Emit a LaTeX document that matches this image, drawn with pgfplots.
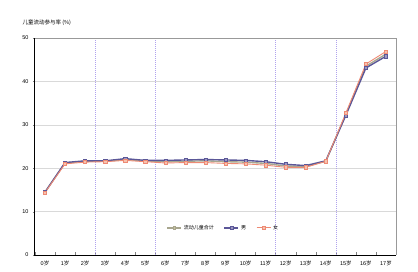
\documentclass[border=0pt]{standalone}
\usepackage{fontspec}
\setmainfont{Liberation Sans}
\newfontfamily\cjk{Noto Sans CJK SC}
\usepackage{pgfplots}
\pgfplotsset{compat=1.18}
\definecolor{totc}{HTML}{A8A68E}
\definecolor{totf}{HTML}{C8C4A0}
\definecolor{malec}{HTML}{5B5798}
\definecolor{femc}{HTML}{EE8A74}
\definecolor{femf}{HTML}{F6C2AE}
\definecolor{vline}{HTML}{9C8CE8}
\newcommand{\sui}[1]{#1{\cjk 岁}}
\begin{document}
\begin{tikzpicture}[x=1pt,y=1pt]
\path[use as bounding box] (0,0) rectangle (418,271);
\node[anchor=west,font=\fontsize{5.5}{6}\selectfont\cjk] at (19,248) {儿童流动参与率 (\%)};
\begin{axis}[
  at={(35pt,16pt)}, anchor=south west,
  scale only axis, width=361pt, height=217pt,
  xmin=-0.5, xmax=17.5, ymin=0, ymax=50,
  xtick={0,...,17},
  xticklabels={\sui{0},\sui{1},\sui{2},\sui{3},\sui{4},\sui{5},\sui{6},\sui{7},\sui{8},\sui{9},\sui{10},\sui{11},\sui{12},\sui{13},\sui{14},\sui{15},\sui{16},\sui{17}},
  minor xtick={-0.5,0.5,...,17.5},
  major x tick style={draw=none},
  minor x tick style={gray, line width=0.4pt},
  minor tick length=3pt,
  xtick pos=bottom,
  ytick={0,10,...,50},
  ytick pos=left,
  ytick align=outside,
  major tick length=2pt,
  ymajorgrids, grid style={gray!30, line width=0.6pt},
  axis line style={draw=none},
  tick label style={font=\fontsize{5.5}{6}\selectfont},
  /pgf/number format/assume math mode=true,
  xticklabel style={yshift=-2pt},
  yticklabel style={xshift=-1pt},
  legend style={at={(0.355,0.125)}, anchor=west, draw=none, fill=none,
    font=\fontsize{5}{6}\selectfont\cjk, legend columns=3,
    /tikz/every even column/.append style={column sep=8pt}},
  legend image code/.code={
    \draw[#1, mark=none] (0pt,0pt) -- (14pt,0pt);
    \draw[#1, only marks, mark size=1.3pt] plot coordinates {(7pt,0pt)};
  },
  clip=false,
]
% vertical dotted lines
\pgfplotsinvokeforeach{2.5,5.5,11.5,14.5}{
  \addplot[forget plot, vline!80, dash pattern=on 1pt off 1pt, line width=0.6pt] coordinates {(#1,0) (#1,50)};
}
% frame
\addplot[forget plot, gray!80, line width=0.6pt] coordinates {(-0.5,50) (17.5,50) (17.5,0)};
\addplot[forget plot, black, line width=1pt] coordinates {(-0.5,50) (-0.5,0) (17.5,0)};
\addplot[totc, line width=1.4pt, mark=square*, mark size=1.6pt, mark options={fill=totf, draw=totc, line width=0.5pt}] coordinates {
(0,14.5) (1,21.2) (2,21.6) (3,21.6) (4,22.0) (5,21.7) (6,21.5) (7,21.6) (8,21.7) (9,21.5) (10,21.4) (11,21.1) (12,20.5) (13,20.4) (14,21.6) (15,32.4) (16,43.5) (17,46.3)};
\addlegendentry{流动儿童合计}
\addplot[malec, line width=1.4pt, mark=square*, mark size=1.6pt, mark options={fill=malec!60, draw=malec, line width=0.5pt}] coordinates {
(0,14.5) (1,21.3) (2,21.7) (3,21.7) (4,22.2) (5,21.8) (6,21.8) (7,21.9) (8,22.0) (9,21.9) (10,21.8) (11,21.5) (12,20.9) (13,20.6) (14,21.7) (15,32.2) (16,43.1) (17,45.8)};
\addlegendentry{男}
\addplot[femc, line width=0.9pt, mark=square*, mark size=1.6pt, mark options={fill=femf, draw=femc, line width=0.5pt}] coordinates {
(0,14.4) (1,21.0) (2,21.4) (3,21.5) (4,21.8) (5,21.5) (6,21.2) (7,21.3) (8,21.3) (9,21.1) (10,21.0) (11,20.7) (12,20.2) (13,20.2) (14,21.6) (15,32.7) (16,44.0) (17,46.9)};
\addlegendentry{女}
\end{axis}
\end{tikzpicture}
\end{document}
